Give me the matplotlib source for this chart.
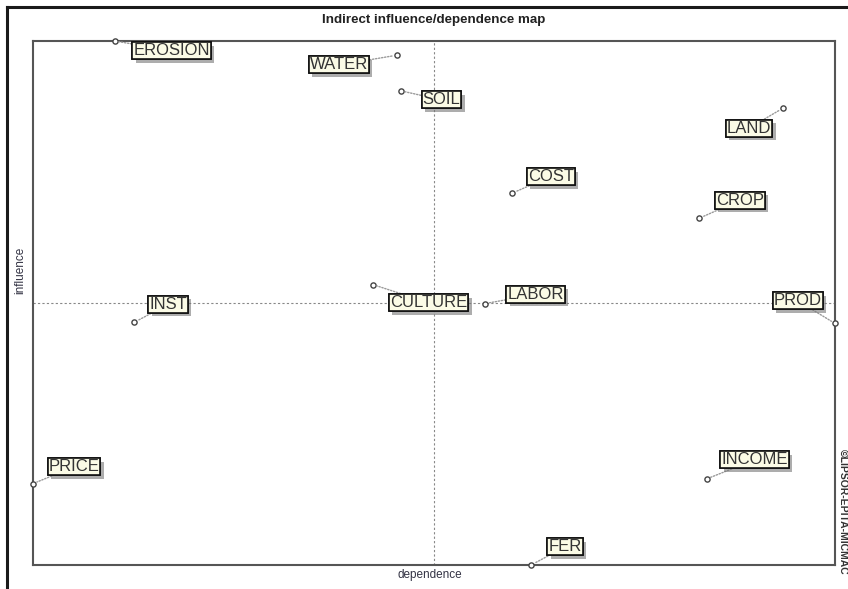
import matplotlib
matplotlib.use("Agg")
import matplotlib.pyplot as plt
import matplotlib.patheffects as pe
from matplotlib.lines import Line2D

plt.rcParams['font.family'] = ['Liberation Sans', 'DejaVu Sans']

# ---- data ----
names = ["EROSION", "WATER", "SOIL", "LAND", "COST", "CROP", "INST",
         "CULTURE", "LABOR", "PROD", "INCOME", "PRICE", "FER"]
dependence = [10.2, 45.4, 45.9, 93.5, 59.7, 83.0, 12.6, 42.4, 56.4, 100.0, 84.0, 0.0, 62.1]
influence = [99.8, 97.1, 90.3, 87.0, 70.8, 66.0, 46.2, 53.4, 49.8, 46.0, 16.4, 15.5, 0.0]

# label offsets (points) - layout only
label_offsets = [(41, -7), (-42, -7), (29, -6.5), (-24.5, -14.4), (28, 12), (29.5, 13),
                 (24.5, 13), (40, -13), (36, 6.5), (-27, 16.5), (34.5, 13.7), (29.5, 12),
                 (24.5, 13)]

W, H = 848, 589
fig = plt.figure(figsize=(W / 100, H / 100), dpi=100)

# outer frame
fig.add_artist(Line2D([7 / W, 7 / W], [0, 1 - 7 / H], color='#1a1a1a', lw=2.2,
                      transform=fig.transFigure))
fig.add_artist(Line2D([7 / W, 1], [1 - 7 / H, 1 - 7 / H], color='#1a1a1a', lw=2.2,
                      transform=fig.transFigure))

ax = fig.add_axes([33 / W, (H - 565) / H, 802 / W, 524 / H])
xmin, xmax = min(dependence), max(dependence)
ymin, ymax = min(influence), max(influence)
ax.set_xlim(xmin, xmax)
ax.set_ylim(ymin, ymax)
ax.set_xticks([])
ax.set_yticks([])
for s in ax.spines.values():
    s.set_color('#555555')
    s.set_linewidth(1.5)

ax.axvline((xmin + xmax) / 2, color='#888888', lw=0.8, ls=(0, (2, 2)), zorder=1)
ax.axhline((ymin + ymax) / 2, color='#888888', lw=0.8, ls=(0, (2, 2)), zorder=1)

ax.scatter(dependence, influence, s=14, facecolor='white', edgecolor='#444444',
           linewidth=1.0, zorder=4, clip_on=False)

for name, x, y, off in zip(names, dependence, influence, label_offsets):
    t = ax.annotate(name, (x, y), xytext=off, textcoords='offset points',
                    ha='center', va='center', fontsize=12, color='#333333',
                    bbox=dict(boxstyle='square,pad=0.06', fc='#fbfbe6', ec='#111111', lw=1.2),
                    arrowprops=dict(arrowstyle='-', color='#999999', lw=1.0,
                                    ls=(0, (1, 1.2)), shrinkA=0, shrinkB=3),
                    zorder=5, annotation_clip=False)
    t.get_bbox_patch().set_path_effects([
        pe.withSimplePatchShadow(offset=(2.5, -2.5), shadow_rgbFace='#777777', alpha=0.6),
        pe.Normal()])

fig.text(434 / W, 1 - 20 / H, "Indirect influence/dependence map", ha='center', va='center',
         fontsize=9.6, fontweight='bold', color='#222222')
fig.text(430 / W, 1 - 575 / H, "dependence", ha='center', va='center', fontsize=8.5,
         color='#333344')
fig.text(20 / W, 1 - 270 / H, "influence", ha='center', va='center', fontsize=8.5,
         color='#333344', rotation=90)
fig.text(843 / W, 1 - 512 / H, "©LIPSOR-EPITA-MICMAC", ha='center', va='center', fontsize=7.5,
         fontweight='bold', color='#333333', rotation=-90)

fig.savefig("out.png", dpi=100)
